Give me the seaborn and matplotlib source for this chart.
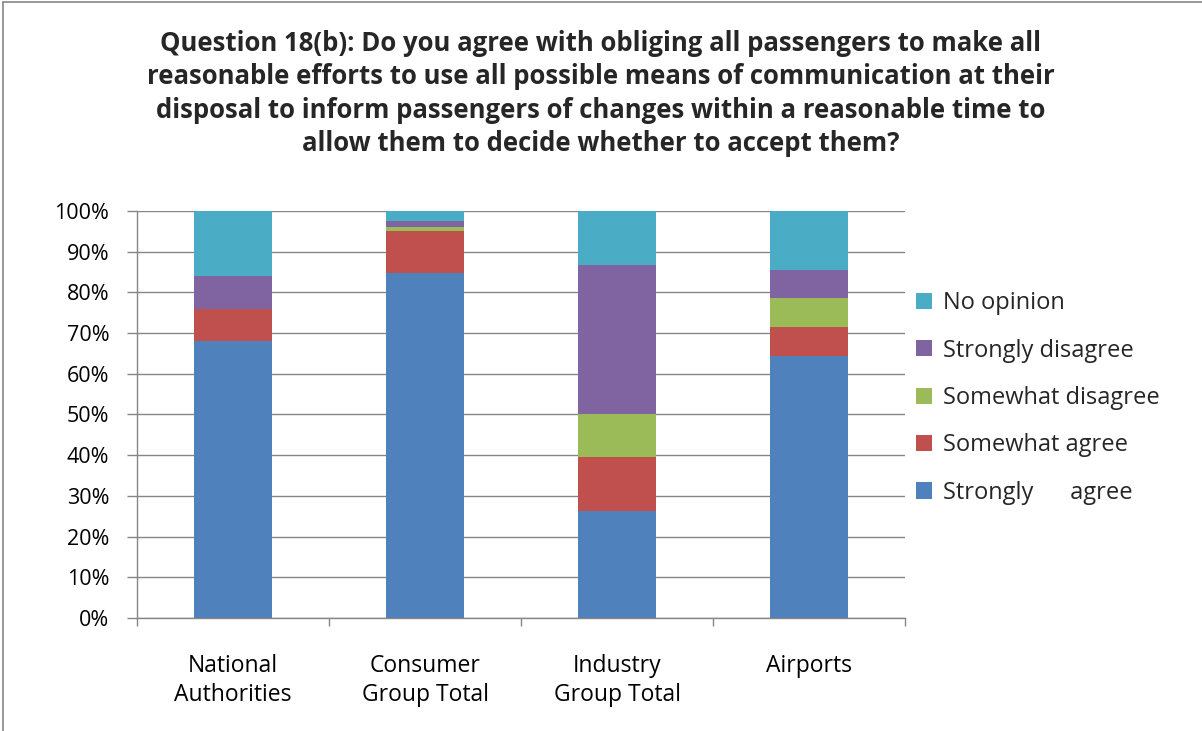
import matplotlib
matplotlib.use("Agg")
import matplotlib.pyplot as plt
import matplotlib.lines as mlines
from matplotlib.patches import Patch
import numpy as np
import pandas as pd
import seaborn as sns

# Survey groups (x axis)
groups = ["National\nAuthorities", "Consumer\nGroup Total", "Industry\nGroup Total", "Airports"]

# Share of answers per group, in percent (bottom to top of each bar)
strongly_agree = [68.0, 84.8, 26.3, 64.3]
somewhat_agree = [8.0, 10.3, 13.2, 7.1]
somewhat_disagree = [0.0, 1.0, 10.5, 7.1]
strongly_disagree = [8.0, 1.5, 36.8, 7.1]
no_opinion = [16.0, 2.4, 13.2, 14.4]

responses = ["Strongly agree", "Somewhat agree", "Somewhat disagree",
             "Strongly disagree", "No opinion"]
legend_labels = ["Strongly      agree", "Somewhat agree", "Somewhat disagree",
                 "Strongly disagree", "No opinion"]
colors = ["#4F81BD", "#C0504D", "#9BBB59", "#8064A2", "#4BACC6"]

ytick_labels = ["0%", "10%", "20%", "30%", "40%", "50%", "60%", "70%", "80%", "90%", "100%"]

title = ("Question 18(b): Do you agree with obliging all passengers to make all\n"
         "reasonable efforts to use all possible means of communication at their\n"
         "disposal to inform passengers of changes within a reasonable time to\n"
         "allow them to decide whether to accept them?")

sns.set_theme(style="white")
plt.rcParams["font.family"] = ["Open Sans", "DejaVu Sans"]

series = [strongly_agree, somewhat_agree, somewhat_disagree, strongly_disagree, no_opinion]
df = pd.DataFrame({"group": groups})
for name, vals in zip(responses, series):
    df[name] = vals

fig = plt.figure(figsize=(12.02, 7.31), dpi=100)
ax = fig.add_axes([0.114, 0.1546, 0.639, 0.5568])

grid_c = "#868686"
for v in range(0, 101, 10):
    ax.axhline(v, color=grid_c, lw=1.0, zorder=0)

bottom = np.zeros(len(groups))
for name, col in zip(responses, colors):
    sns.barplot(data=df, x="group", y=name, color=col, bottom=bottom,
                width=0.41, saturation=1, ax=ax, zorder=2, edgecolor="none",
                linewidth=0)
    bottom = bottom + df[name].to_numpy()

ax.set_xlim(-0.5, 3.5)
ax.set_ylim(0, 100)
ax.set_xlabel("")
ax.set_ylabel("")

ax.set_yticks(range(0, 101, 10))
ax.set_yticklabels(ytick_labels, fontsize=15.5, color="black")
ax.set_xticks(range(len(groups)))
ax.set_xticklabels(groups, fontsize=16.5, color="black", linespacing=1.25)
ax.set_xticks(np.arange(-0.5, 4.0, 1.0), minor=True)
ax.tick_params(axis="x", which="major", length=0, pad=26)
ax.tick_params(axis="x", which="minor", length=6, width=1, color=grid_c, direction="out", bottom=True)
ax.tick_params(axis="y", length=7, width=1, color=grid_c, direction="out", left=True, pad=13)

for side in ["top", "right"]:
    ax.spines[side].set_visible(False)
for side in ["left", "bottom"]:
    ax.spines[side].set_color(grid_c)
    ax.spines[side].set_linewidth(1.0)

handles = [Patch(facecolor=c, edgecolor="none") for c in colors][::-1]
labels = legend_labels[::-1]
fig.legend(handles, labels, loc="upper left", bbox_to_anchor=(0.7446, 0.6306),
           frameon=False, fontsize=17, handlelength=0.68, handleheight=0.68,
           handletextpad=0.47, labelspacing=0.99)

fig.text(0.5, 0.959, title, ha="center", va="top", fontsize=18.5,
         fontweight="bold", linespacing=1.3)

# Chart frame
fig.add_artist(mlines.Line2D([0.0025, 0.0025], [0, 0.997], transform=fig.transFigure,
                             color="#868686", lw=1.2))
fig.add_artist(mlines.Line2D([0.0025, 1.0], [0.997, 0.997], transform=fig.transFigure,
                             color="#868686", lw=1.2))

fig.savefig("out.png", dpi=100, facecolor="white")
